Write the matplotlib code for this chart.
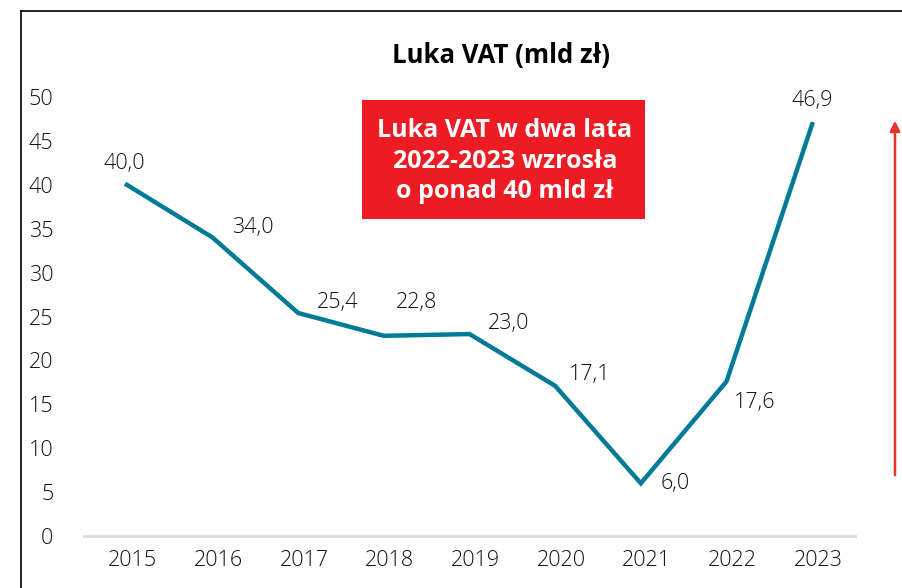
import matplotlib.pyplot as plt
import matplotlib.transforms as mtransforms
from matplotlib.lines import Line2D
from matplotlib.patches import FancyArrowPatch

years = ['2015', '2016', '2017', '2018', '2019', '2020', '2021', '2022', '2023']
vat_gap = [40.0, 34.0, 25.4, 22.8, 23.0, 17.1, 6.0, 17.6, 46.9]
value_labels = ['40,0', '34,0', '25,4', '22,8', '23,0', '17,1', '6,0', '17,6', '46,9']
# label offsets in pixels relative to each point
label_offsets = [(-3, 21), (40, 10), (40, 10), (33, 33), (39, 11), (35, 11), (34, 0), (28, -21), (0, 24)]
y_ticks = [0, 5, 10, 15, 20, 25, 30, 35, 40, 45, 50]

W, H = 902, 588
fig = plt.figure(figsize=(W / 100, H / 100), dpi=100)
fig.patch.set_facecolor('white')

ax = fig.add_axes([84 / W, 1 - 536 / H, (855 - 84) / W, (536 - 97) / H])
x = list(range(len(years)))
ax.plot(x, vat_gap, color='#007B96', lw=3.2, solid_joinstyle='miter')

for xi, yi, lab, off in zip(x, vat_gap, value_labels, label_offsets):
    ax.annotate(lab, (xi, yi), xytext=off, textcoords='offset pixels',
                ha='center', va='center', fontsize=15.5, color='#111111',
                family='Open Sans', fontweight='light')

ax.set_xlim(-0.5, len(years) - 0.5)
ax.set_ylim(0, 50)
ax.set_xticks(x)
ax.set_xticklabels(years)
ax.set_yticks(y_ticks)
ax.set_yticklabels([str(v) for v in y_ticks])
ax.tick_params(length=0, labelsize=15.5, colors='#111111')
ax.tick_params(axis='x', pad=10)
ax.tick_params(axis='y', pad=22)
shift = mtransforms.ScaledTranslation(6 / 100, 0, fig.dpi_scale_trans)
for lab in ax.get_xticklabels():
    lab.set_transform(lab.get_transform() + shift)
for lab in ax.get_xticklabels() + ax.get_yticklabels():
    lab.set_family('Open Sans')
    lab.set_fontweight('light')
for s in ['top', 'right', 'left']:
    ax.spines[s].set_visible(False)
ax.spines['bottom'].set_color('#D9D9D9')
ax.spines['bottom'].set_linewidth(2)
ax.patch.set_alpha(0)

fig.text(501 / W, 1 - 55 / H, 'Luka VAT (mld zł)', ha='center', va='center',
         fontsize=18.5, fontweight='bold', family='Open Sans', color='black')

# red callout box
box_text = 'Luka VAT w dwa lata\n2022-2023 wzrosła\no ponad 40 mld zł'
fig.patches.append(plt.Rectangle((362 / W, 1 - 219 / H), (645 - 362) / W, (219 - 100) / H,
                                 transform=fig.transFigure, facecolor='#ED1C24',
                                 edgecolor='none', figure=fig))
fig.text(505 / W, 1 - 161 / H, box_text, ha='center', va='center', color='white',
         fontsize=18, fontweight='bold', family='Open Sans', linespacing=1.28)

# red arrow on the right
arrow = FancyArrowPatch((895 / W, 1 - 478 / H), (895 / W, 1 - 118 / H),
                        transform=fig.transFigure, arrowstyle='-|>,head_length=6,head_width=3',
                        color='#E8352A', lw=1.8, mutation_scale=1)
fig.patches.append(arrow)

# frame lines (left and top)
fig.add_artist(Line2D([20.5 / W, 20.5 / W], [0, 1 - 11 / H], color='black', lw=1.2))
fig.add_artist(Line2D([20.5 / W, 1], [1 - 11 / H, 1 - 11 / H], color='black', lw=1.2))

fig.savefig('out.png', dpi=100)
